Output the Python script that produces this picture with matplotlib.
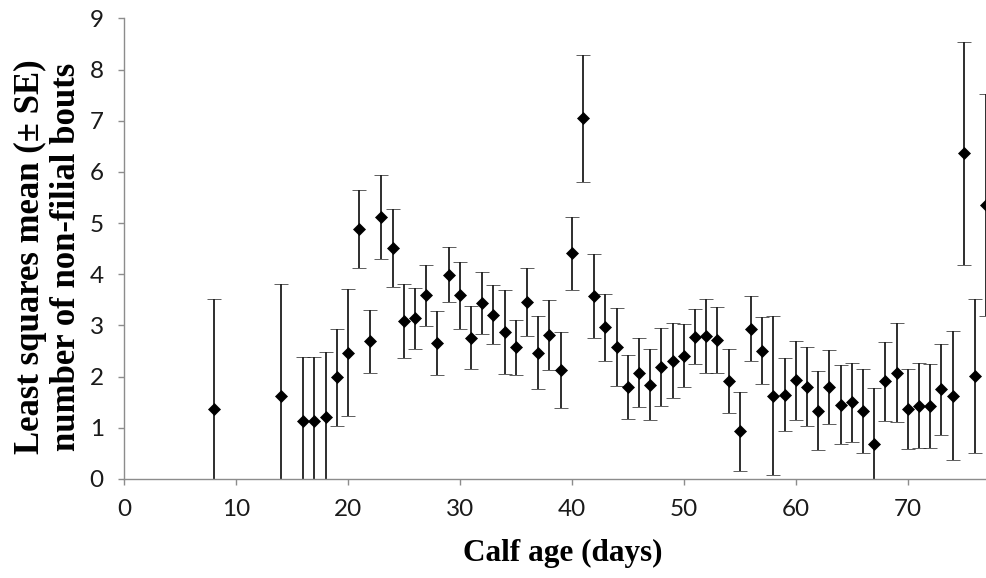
import matplotlib
matplotlib.use("Agg")
import matplotlib.pyplot as plt

# calf age (days), least squares mean and standard error
age = [8, 14, 16, 17, 18, 19, 20, 21, 22, 23, 24, 25, 26, 27, 28, 29, 30,
       31, 32, 33, 34, 35, 36, 37, 38, 39, 40, 41, 42, 43, 44, 45, 46, 47,
       48, 49, 50, 51, 52, 53, 54, 55, 56, 57, 58, 59, 60, 61, 62, 63, 64,
       65, 66, 67, 68, 69, 70, 71, 72, 73, 74, 75, 76, 77]
mean = [1.36, 1.63, 1.13, 1.13, 1.21, 1.99, 2.47, 4.89, 2.69, 5.11, 4.51,
        3.09, 3.14, 3.59, 2.66, 3.99, 3.59, 2.76, 3.44, 3.21, 2.88, 2.57,
        3.46, 2.47, 2.81, 2.13, 4.41, 7.05, 3.58, 2.96, 2.58, 1.80, 2.08,
        1.84, 2.19, 2.31, 2.41, 2.78, 2.79, 2.72, 1.91, 0.93, 2.94, 2.51,
        1.63, 1.65, 1.93, 1.80, 1.33, 1.80, 1.45, 1.50, 1.33, 0.68, 1.91,
        2.08, 1.37, 1.43, 1.43, 1.75, 1.63, 6.36, 2.01, 5.36]
se = [2.16, 2.17, 1.25, 1.25, 1.27, 0.95, 1.24, 0.76, 0.62, 0.82, 0.76,
      0.72, 0.60, 0.60, 0.62, 0.54, 0.65, 0.62, 0.60, 0.58, 0.82, 0.53,
      0.67, 0.71, 0.69, 0.74, 0.71, 1.24, 0.82, 0.65, 0.77, 0.63, 0.67,
      0.69, 0.76, 0.73, 0.61, 0.54, 0.72, 0.64, 0.62, 0.77, 0.63, 0.65,
      1.55, 0.71, 0.77, 0.77, 0.77, 0.72, 0.77, 0.77, 0.82, 1.09, 0.77,
      0.96, 0.78, 0.83, 0.82, 0.89, 1.26, 2.17, 1.51, 2.17]

xticks = [0, 10, 20, 30, 40, 50, 60, 70]
yticks = list(range(0, 10))

fig = plt.figure(figsize=(9.87, 5.78), dpi=100)
ax = fig.add_axes([0.1256, 0.1713, 0.8744, 0.7970])

ax.errorbar(age, mean, yerr=se, fmt='D', color='black', ms=5.8, mew=0.5,
            ecolor='#1e1e1e', elinewidth=1.3, capsize=4.7, capthick=1.3)

ax.set_xlim(0, 77.08)
ax.set_ylim(0, 9)
ax.set_xticks(xticks)
ax.set_yticks(yticks)

for side in ['top', 'right']:
    ax.spines[side].set_visible(False)
for side in ['left', 'bottom']:
    ax.spines[side].set_color('#8c8c8c')
    ax.spines[side].set_linewidth(1.0)

ax.tick_params(axis='both', direction='out', length=4.5, width=1.0,
               color='#8c8c8c', labelsize=17.5, pad=10, labelcolor='#1a1a1a')
for lab in ax.get_xticklabels() + ax.get_yticklabels():
    lab.set_fontfamily('Lato')

fig.text(563 / 987, 1 - 553 / 578, 'Calf age (days)', ha='center', va='center',
         fontsize=22.5, fontweight='bold', family='Liberation Serif')
fig.text(48 / 987, 1 - 257 / 578,
         'Least squares mean (\u00b1 SE)\nnumber of non-filial bouts',
         ha='center', va='center', rotation=90, fontsize=25,
         fontweight='bold', family='Liberation Serif', linespacing=1.12)

fig.savefig('out.png', dpi=100)
